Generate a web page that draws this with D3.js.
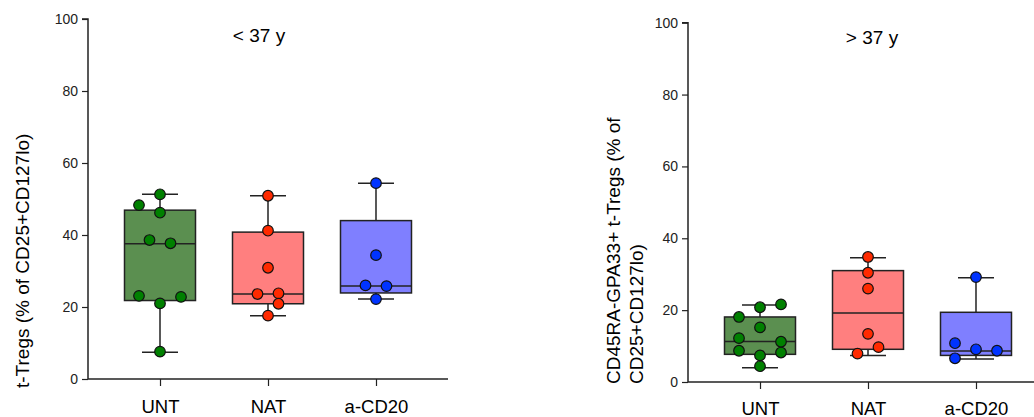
<!DOCTYPE html>
<html><head><meta charset="utf-8">
<script src="https://cdn.jsdelivr.net/npm/d3@7"></script>
<style>
html,body{margin:0;padding:0;background:#fff;}
svg{display:block;font-family:"Liberation Sans",Arial,sans-serif;}
</style></head>
<body>
<svg id="chart" width="1034" height="417"></svg>
<script>
// ---- data ----
const categories = ["UNT", "NAT", "a-CD20"];
const yTicks = [0, 20, 40, 60, 80, 100];
const panelTitles = ["< 37 y", "> 37 y"];
const yLabels = [["t-Tregs (% of CD25+CD127lo)"], ["CD45RA-GPA33+ t-Tregs (% of", "CD25+CD127lo)"]];

// < 37 y points
const youngUNT = [51.3, 48.3, 46.2, 38.6, 37.7, 23.1, 22.8, 21.0, 7.6];
const youngNAT = [50.9, 41.2, 30.9, 23.6, 23.8, 20.9, 17.6];
const youngCD20 = [54.4, 34.4, 26.0, 25.8, 22.2];
// > 37 y points
const oldUNT = [21.6, 20.8, 18.1, 15.2, 12.2, 11.2, 8.7, 8.2, 7.4, 4.4];
const oldNAT = [34.8, 30.4, 26.0, 13.4, 9.7, 7.9];
const oldCD20 = [29.2, 10.8, 9.1, 8.7, 6.6];

// box statistics [min, q1, median, q3, max]
const youngBoxUNT = [7.4, 21.8, 37.6, 46.9, 51.3];
const youngBoxNAT = [17.6, 20.9, 23.6, 40.8, 50.9];
const youngBoxCD20 = [22.2, 23.9, 25.8, 44.0, 54.4];
const oldBoxUNT = [4.0, 7.7, 11.3, 18.1, 21.4];
const oldBoxNAT = [7.4, 9.1, 19.2, 31.0, 34.6];
const oldBoxCD20 = [6.4, 7.4, 8.6, 19.4, 29.0];

// horizontal dodge slots of the scatter points (layout)
const youngSlotsUNT = [0, -2, 0, -1, 1, -2, 2, 0, 0];
const youngSlotsNAT = [0, 0, 0, -1, 1, 1, 0];
const youngSlotsCD20 = [0, 0, -1, 1, 0];
const oldSlotsUNT = [2, 0, -2, 0, -2, 2, -2, 2, 0, 0];
const oldSlotsNAT = [0, 0, 0, 0, 1, -1];
const oldSlotsCD20 = [0, -2, 0, 2, -2];

// ---- styles ----
const boxFill = ["#5b8f50", "#ff7f7f", "#7f7fff"];
const dotFill = ["#008000", "#ff2a00", "#0033ff"];
const ink = "#222";

const svg = d3.select("#chart");

function drawPanel(p) {
  const g = svg.append("g");
  const y = d3.scaleLinear().domain([0, 100]).range([p.bottom, p.top]);
  const x = d3.scalePoint().domain(categories).range([p.left, p.left + 360]).padding(0.6667);

  // y axis
  const ya = g.append("g").attr("transform", `translate(${p.left},0)`)
    .call(d3.axisLeft(y).tickValues(yTicks).tickSize(6).tickPadding(4).tickFormat(d3.format("d")));
  ya.select(".domain").attr("stroke", ink).attr("stroke-width", 1.5).attr("d", `M-6,${p.top}H0V${p.bottom}`);
  ya.selectAll(".tick line").attr("stroke", ink).attr("stroke-width", 1.2);
  ya.selectAll(".tick text").attr("font-size", 14).attr("fill", ink).attr("font-family", "Liberation Sans, Arial");

  // x axis
  const xa = g.append("g").attr("transform", `translate(0,${p.bottom})`)
    .call(d3.axisBottom(x).tickSize(7).tickPadding(p.xPad));
  xa.select(".domain").attr("stroke", ink).attr("stroke-width", 1.5).attr("d", `M${p.left},0H${p.left + 360}`);
  xa.selectAll(".tick line").attr("stroke", ink).attr("stroke-width", 1.2);
  xa.selectAll(".tick text").attr("font-size", 18.5).attr("fill", "#000").attr("font-family", "Liberation Sans, Arial");

  // title
  g.append("text").attr("x", p.titleX).attr("y", p.titleY).attr("text-anchor", "middle")
    .attr("font-size", 19).attr("fill", "#000").text(p.title);

  // y label
  const lab = g.append("text").attr("transform", `translate(${p.labX},${p.labY}) rotate(-90)`)
    .attr("text-anchor", "start").attr("font-size", 19).attr("fill", "#000");
  p.ylabel.forEach((t, i) => lab.append("tspan").attr("x", 0).attr("dy", i === 0 ? 0 : 23).text(t));

  const halfBox = 35.5, halfCap = 18, step = 10.5, r = 5.3;
  categories.forEach((c, i) => {
    const b = p.boxes[i];
    const cx = x(c);
    const gg = g.append("g");
    // whiskers
    gg.append("line").attr("x1", cx).attr("x2", cx).attr("y1", y(b[0])).attr("y2", y(b[4]))
      .attr("stroke", ink).attr("stroke-width", 1.5);
    [b[0], b[4]].forEach(v => gg.append("line").attr("x1", cx - halfCap).attr("x2", cx + halfCap)
      .attr("y1", y(v)).attr("y2", y(v)).attr("stroke", ink).attr("stroke-width", 1.5));
    // box
    gg.append("rect").attr("x", cx - halfBox).attr("width", halfBox * 2)
      .attr("y", y(b[3])).attr("height", y(b[1]) - y(b[3]))
      .attr("fill", boxFill[i]).attr("stroke", ink).attr("stroke-width", 1.5);
    gg.append("line").attr("x1", cx - halfBox).attr("x2", cx + halfBox)
      .attr("y1", y(b[2])).attr("y2", y(b[2])).attr("stroke", ink).attr("stroke-width", 1.5);
    // points
    gg.selectAll("circle").data(p.values[i]).join("circle")
      .attr("cx", (d, k) => cx + p.slots[i][k] * step)
      .attr("cy", d => y(d)).attr("r", r)
      .attr("fill", dotFill[i]).attr("stroke", "#111").attr("stroke-width", 1.2);
  });
}

drawPanel({
  left: 88, top: 19, bottom: 379, xPad: 14,
  title: panelTitles[0], titleX: 259, titleY: 41.5,
  ylabel: yLabels[0], labX: 29, labY: 388,
  values: [youngUNT, youngNAT, youngCD20],
  boxes: [youngBoxUNT, youngBoxNAT, youngBoxCD20],
  slots: [youngSlotsUNT, youngSlotsNAT, youngSlotsCD20]
});
drawPanel({
  left: 688, top: 22.7, bottom: 382, xPad: 13,
  title: panelTitles[1], titleX: 872, titleY: 44.3,
  ylabel: yLabels[1], labX: 620, labY: 384,
  values: [oldUNT, oldNAT, oldCD20],
  boxes: [oldBoxUNT, oldBoxNAT, oldBoxCD20],
  slots: [oldSlotsUNT, oldSlotsNAT, oldSlotsCD20]
});
</script>
</body></html>
